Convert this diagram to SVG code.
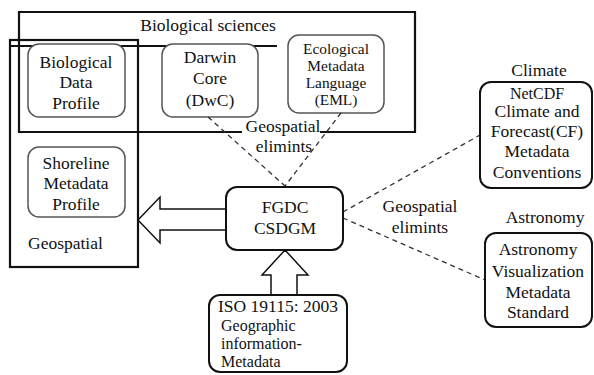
<svg xmlns="http://www.w3.org/2000/svg" width="594" height="375" viewBox="0 0 594 375" font-family="'Liberation Serif', 'Times New Roman', Tinos, 'DejaVu Serif', serif">
<style>
text{font-family:'Liberation Serif','Times New Roman',Tinos,'DejaVu Serif',serif;font-size:17.5px;fill:#111;text-anchor:middle}
.l{text-anchor:start}
.sm{font-size:15.4px}
.md{font-size:16px}
.frame{fill:none;stroke:#111;stroke-width:2.2}
.inner{fill:#fff;stroke:#555;stroke-width:1.5}
.box{fill:#fff;stroke:#111;stroke-width:2}
.dash{fill:none;stroke:#333;stroke-width:1.3;stroke-dasharray:5,4}
.hollow{fill:#fff;stroke:#111;stroke-width:1.5}
</style>
<rect width="594" height="375" fill="#fff"/>
<g id="bio-sciences">
<path class="frame" d="M242,132 H19 V12 H415 V132 H320"/>
<text x="208" y="31">Biological sciences</text>
</g>
<g id="geospatial">
<rect class="frame" x="10" y="40" width="128" height="227"/>
<line class="frame" x1="10" y1="46" x2="277" y2="46"/>
<text class="l" x="28" y="249">Geospatial</text>
</g>
<g id="bdp">
<rect class="inner" x="28" y="44" width="97" height="73" rx="11"/>
<text x="76" y="68">Biological</text>
<text x="76" y="88">Data</text>
<text x="76" y="109">Profile</text>
</g>
<g id="dwc">
<rect class="inner" x="162" y="44" width="96" height="73" rx="11"/>
<text x="210" y="63">Darwin</text>
<text x="210" y="84">Core</text>
<text x="210" y="106">(DwC)</text>
</g>
<g id="eml">
<rect class="inner" x="288" y="35" width="96" height="78" rx="11"/>
<text class="sm" x="336" y="53.5">Ecological</text>
<text class="sm" x="336" y="70.7">Metadata</text>
<text class="sm" x="336" y="87.9">Language</text>
<text class="sm" x="336" y="105.1">(EML)</text>
</g>
<g id="shoreline">
<rect class="inner" x="28" y="147" width="97" height="70" rx="11"/>
<text x="76" y="169">Shoreline</text>
<text x="76" y="189">Metadata</text>
<text x="76" y="210">Profile</text>
</g>
<g id="connectors">
<line class="dash" x1="208" y1="117" x2="285" y2="186"/>
<line class="dash" x1="341" y1="113" x2="285" y2="186"/>
<line class="dash" x1="343" y1="212" x2="480" y2="135"/>
<line class="dash" x1="343" y1="218" x2="485" y2="280"/>
<polygon class="hollow" points="226,209 160,209 160,197 138,220 160,243 160,230 226,230"/>
<polygon class="hollow" points="271,295 271,275 262,275 285,250 308,275 297,275 297,295"/>
</g>
<g id="label-top">
<text x="283" y="132">Geospatial</text>
<text x="284" y="152">elimints</text>
</g>
<g id="label-right">
<text x="420" y="212">Geospatial</text>
<text x="420" y="233">elimints</text>
</g>
<g id="fgdc">
<rect class="box" x="226" y="187" width="117" height="63" rx="11"/>
<text x="285" y="213">FGDC</text>
<text x="285" y="234">CSDGM</text>
</g>
<g id="iso">
<rect class="box" x="209" y="295" width="138" height="77" rx="11"/>
<text class="l" x="218" y="312">ISO 19115: 2003</text>
<text class="l md" x="221" y="331">Geographic</text>
<text class="l md" x="221" y="349">information-</text>
<text class="l md" x="221" y="367">Metadata</text>
</g>
<g id="climate">
<text x="539" y="76">Climate</text>
<rect class="box" x="480" y="82" width="112" height="106" rx="11"/>
<text class="md" x="537" y="99">NetCDF</text>
<text x="537" y="117">Climate and</text>
<text x="537" y="137">Forecast(CF)</text>
<text x="537" y="157">Metadata</text>
<text x="537" y="178">Conventions</text>
</g>
<g id="astronomy">
<text x="545" y="223">Astronomy</text>
<rect class="box" x="485" y="233" width="107" height="94" rx="11"/>
<text x="538" y="255">Astronomy</text>
<text x="538" y="277">Visualization</text>
<text x="538" y="298">Metadata</text>
<text x="538" y="318">Standard</text>
</g>
</svg>
